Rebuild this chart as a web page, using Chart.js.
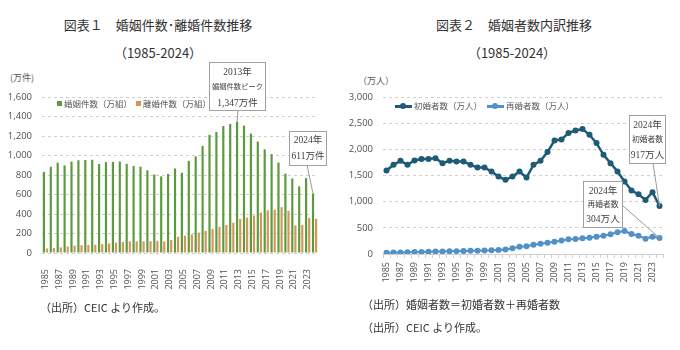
<!DOCTYPE html>
<html><head><meta charset="utf-8">
<script src="https://cdn.jsdelivr.net/npm/chart.js@4"></script>
<style>
body{margin:0;width:680px;height:350px;background:#fff;position:relative;overflow:hidden;font-family:'Noto Sans CJK JP',sans-serif;color:#333}
.t{position:absolute;white-space:nowrap;line-height:1}
canvas{position:absolute;top:0}
.sq{display:inline-block;width:5px;height:5px;margin-right:2px;vertical-align:1px}
.ln{display:inline-block;position:relative;width:17px;height:8px;margin-right:2px;vertical-align:-1px}
.ln i{position:absolute;left:0;top:3px;width:17px;height:2.5px}
.ln b{position:absolute;left:5px;top:1px;width:6px;height:6px;border-radius:50%}
</style></head><body>
<div class="t" style="left:158px;top:18px;transform:translateX(-50%);font-size:13px">図表１　婚姻件数･離婚件数推移</div>
<div class="t" style="left:158px;top:46px;transform:translateX(-50%);font-size:13px">（1985-2024）</div>
<div class="t" style="left:514px;top:18px;transform:translateX(-50%);font-size:13px">図表２　婚姻者数内訳推移</div>
<div class="t" style="left:512px;top:46px;transform:translateX(-50%);font-size:13px">（1985-2024）</div>
<div class="t" style="left:10px;top:73px;font-size:9px;color:#595959">(万件)</div>
<div class="t" style="left:358px;top:76px;font-size:9px;color:#595959">（万人）</div>
<canvas id="c1" width="340" height="300" style="left:0"></canvas>
<canvas id="c2" width="340" height="300" style="left:340px"></canvas>
<div class="t" style="left:57px;top:99px;font-size:8.5px;color:#595959"><span class="sq" style="background:#5b9b3b"></span>婚姻件数（万組）</div>
<div class="t" style="left:136px;top:99px;font-size:8.5px;color:#595959"><span class="sq" style="background:#d4975a"></span>離婚件数（万組）</div>
<div class="t" style="left:395px;top:101px;font-size:8.5px;color:#595959"><span class="ln"><i style="background:#1d5b76"></i><b style="background:#1d5b76"></b></span>初婚者数（万人）</div>
<div class="t" style="left:487px;top:101px;font-size:8.5px;color:#595959"><span class="ln"><i style="background:#5290c8"></i><b style="background:#5290c8"></b></span>再婚者数（万人）</div>
<div class="t" style="left:40px;top:302px;font-size:11px">（出所）CEIC より作成。</div>
<div class="t" style="left:362px;top:299px;font-size:11px">（出所）婚姻者数＝初婚者数＋再婚者数</div>
<div class="t" style="left:362px;top:322px;font-size:11px">（出所）CEIC より作成。</div>
<script>
const years = ['1985','1986','1987','1988','1989','1990','1991','1992','1993','1994','1995','1996','1997','1998','1999','2000','2001','2002','2003','2004','2005','2006','2007','2008','2009','2010','2011','2012','2013','2014','2015','2016','2017','2018','2019','2020','2021','2022','2023','2024'];
const marriages = [831.3,884.0,926.7,899.0,937.2,951.1,953.2,955.9,912.3,932.2,934.1,938.7,914.1,891.7,885.3,848.5,805.0,786.0,811.4,867.2,823.1,945.0,991.4,1098.3,1212.4,1241.0,1302.4,1323.6,1346.9,1306.7,1224.7,1142.8,1063.1,1013.9,927.3,814.3,764.3,683.5,768.2,610.6];
const divorces = [45.8,50.6,58.1,65.5,75.3,80.0,82.6,85.0,90.9,98.1,105.6,113.2,119.8,119.1,120.2,121.3,125.1,117.7,133.1,166.5,178.5,191.3,209.8,226.9,246.8,267.8,287.4,310.4,350.0,363.7,384.1,415.8,437.4,446.1,470.1,433.9,283.9,287.9,360.5,351.0];
const firstMarriage = [1595,1704,1780,1704,1787,1813,1813,1832,1736,1780,1768,1768,1704,1652,1652,1576,1480,1417,1480,1576,1461,1704,1780,1947,2170,2190,2311,2361,2387,2278,2119,1895,1736,1576,1384,1212,1143,1034,1181,917];
const remarriage = [25,28,31,34,37,40,43,46,48,51,54,57,60,63,66,70,78,85,109,140,150,175,195,215,236,260,281,285,300,310,332,350,377,415,440,383,350,293,332,304];
const yTicks1 = [0,200,400,600,800,1000,1200,1400,1600];
const yTicks2 = [0,500,1000,1500,2000,2500,3000];

const tickFont = {family:"'Open Sans','Noto Sans CJK JP',sans-serif", size:9.5};
const xFont = {family:"'Open Sans',sans-serif", size:9};
const tickColor = '#505050';
const fmt = v => Number(v).toLocaleString('en-US');

const annotPlugin = {
  id:'annot',
  afterDatasetsDraw(chart, args, opts){
    const ctx = chart.ctx;
    (opts.items||[]).forEach(a=>{
      const el = chart.getDatasetMeta(a.dataset).data[a.index];
      const px = el.x, py = el.y;
      ctx.save();
      ctx.strokeStyle = '#9a9a9a'; ctx.lineWidth = 1;
      ctx.beginPath(); ctx.moveTo(a.lx, a.ly); ctx.lineTo(px, py); ctx.stroke();
      ctx.fillStyle = '#fff';
      ctx.fillRect(a.x, a.y, a.w, a.h);
      ctx.strokeStyle = '#a0a0a0';
      ctx.strokeRect(a.x+0.5, a.y+0.5, a.w, a.h);
      ctx.fillStyle = '#404040';
      ctx.textAlign = 'center'; ctx.textBaseline = 'middle';
      a.lines.forEach((t,i)=>{
        ctx.font = (a.sizes[i]) + "px 'Liberation Serif','Noto Sans CJK JP',serif";
        ctx.fillText(t, a.x + a.w/2 + 0.5, a.y + a.top + i*a.lh);
      });
      ctx.restore();
    });
  }
};

new Chart(document.getElementById('c1'), {
  type:'bar',
  data:{labels:years, datasets:[
    {label:'婚姻件数（万組）', data:marriages, backgroundColor:'#5b9b3b', categoryPercentage:0.9, barPercentage:0.7},
    {label:'離婚件数（万組）', data:divorces, backgroundColor:'#d4975a', categoryPercentage:0.9, barPercentage:0.7}
  ]},
  plugins:[annotPlugin],
  options:{
    responsive:false, animation:false,
    layout:{padding:{top:97, right:22, left:0, bottom:0}},
    plugins:{legend:{display:false}, tooltip:{enabled:false},
      annot:{items:[
        {dataset:0, index:28, x:209, y:62, w:56, h:48, lx:238, ly:110, top:10, lh:15.5, sizes:[9.5,7.3,9.5], lines:['2013年','婚姻件数ピーク','1,347万件']},
        {dataset:0, index:39, x:289, y:131, w:37, h:34, lx:307, ly:165, top:9, lh:16, sizes:[9.5,9.5], lines:['2024年','611万件']}
      ]}},
    scales:{
      x:{grid:{display:false}, border:{display:false},
        ticks:{autoSkip:false, maxRotation:90, minRotation:90, padding:8, font:xFont, color:tickColor,
          callback(v,i){return i%2===0 ? this.getLabelForValue(v) : '';}},
        afterFit(s){s.height=47;}},
      y:{min:0, max:1600, afterBuildTicks(s){s.ticks = yTicks1.map(v=>({value:v}));},
        ticks:{padding:10, font:tickFont, color:tickColor, callback:fmt},
        grid:{color:'#cfcfcf', drawTicks:false}, border:{display:false, dash:[3,3]},
        afterFit(s){s.width=42;}}
    }
  }
});

new Chart(document.getElementById('c2'), {
  type:'line',
  data:{labels:years, datasets:[
    {label:'初婚者数（万人）', data:firstMarriage, borderColor:'#1d5b76', backgroundColor:'#1d5b76', borderWidth:2.5, pointRadius:3, pointBorderWidth:0, pointBackgroundColor:'#1d5b76', tension:0},
    {label:'再婚者数（万人）', data:remarriage, borderColor:'#5290c8', backgroundColor:'#5290c8', borderWidth:2, pointRadius:3, pointBorderWidth:0, pointBackgroundColor:'#5290c8', tension:0}
  ]},
  plugins:[annotPlugin],
  options:{
    responsive:false, animation:false,
    layout:{padding:{top:97, right:17, left:0, bottom:0}},
    plugins:{legend:{display:false}, tooltip:{enabled:false},
      annot:{items:[
        {dataset:0, index:39, x:289, y:115, w:36, h:48, lx:313, ly:163, top:10, lh:15, sizes:[9.5,7.8,9.5], lines:['2024年','初婚者数','917万人']},
        {dataset:1, index:39, x:243, y:181, w:39, h:46, lx:282, ly:205, top:10, lh:14, sizes:[9.5,7.8,9.5], lines:['2024年','再婚者数','304万人']}
      ]}},
    scales:{
      x:{offset:true, grid:{drawOnChartArea:false, drawTicks:true, tickLength:4, color:'#d0d0d0', offset:true}, border:{display:true, color:'#d0d0d0'},
        ticks:{autoSkip:false, maxRotation:90, minRotation:90, padding:4, font:xFont, color:tickColor,
          callback(v,i){return i%2===0 ? this.getLabelForValue(v) : '';}},
        afterFit(s){s.height=46;}},
      y:{min:0, max:3000, afterBuildTicks(s){s.ticks = yTicks2.map(v=>({value:v}));},
        ticks:{padding:10, font:tickFont, color:tickColor, callback:fmt},
        grid:{color:'#cfcfcf', drawTicks:false}, border:{display:false, dash:[3,3]},
        afterFit(s){s.width=43;}}
    }
  }
});
</script>
</body></html>
